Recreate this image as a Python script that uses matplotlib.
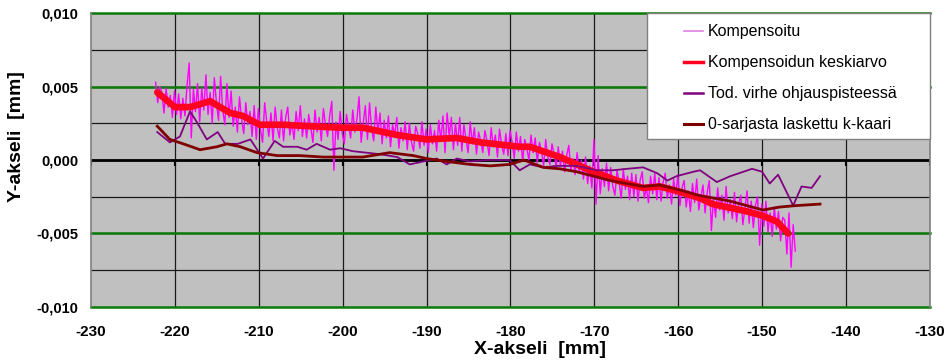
import numpy as np
import matplotlib.pyplot as plt
from matplotlib.patches import Rectangle
from matplotlib.lines import Line2D

# ── Data (y values in µm, x in mm) ───────────────────────────
# Kompensoitu: raw compensated signal, sampled every 0.25 mm
komp_x0, komp_dx = -222.3, 0.25
komp_um = [
    5.3, 3.9, 5.0, 4.6, 3.2, 4.9, 3.6, 4.4, 2.9, 4.7, 3.1, 4.5,
    2.8, 4.2, 3.0, 5.1, 6.6, 1.5, 4.8, 3.3, 5.2, 2.6, 4.9, 3.4,
    5.8, 3.1, 4.6, 2.5, 5.6, 3.9, 2.7, 5.7, 3.4, 2.4, 5.2, 2.9,
    4.7, 2.3, 3.6, 1.9, 4.3, 2.8, 1.8, 3.9, 2.4, 3.3, 1.6, 3.7,
    1.4, 3.5, 2.1, 1.2, 3.9, 2.6, 1.6, 3.2, 1.3, 3.6, 2.2, 1.5,
    3.4, 1.3, 2.9, 3.6, 1.7, 2.5, 1.4, 3.3, 2.0, 3.7, 1.6, 2.8,
    1.5, 3.1, 2.2, 1.2, 3.4, 1.9, 2.9, 1.3, 3.5, 2.4, 1.6, 3.0,
    4.0, -0.7, 2.6, 1.4, 3.3, 1.8, 1.1, 3.1, 2.3, 1.5, 3.4, 1.9,
    2.8, 4.3, 1.2, 2.5, 3.7, 1.4, 3.9, 2.1, 1.3, 3.6, 1.8, 3.2,
    1.1, 2.7, 1.5, 3.0, 0.9, 2.4, 1.7, 2.9, 0.8, 2.2, 1.3, 2.6,
    0.7, 2.5, 1.2, 0.6, 2.3, 1.8, 0.8, 2.6, 1.0, 2.1, 0.5, 2.4,
    1.1, 2.0, 0.6, 2.7, 1.3, 3.0, 0.5, 3.2, 1.6, 2.9, 0.7, 2.5,
    1.0, 2.9, 0.6, 2.4, 1.4, 0.5, 2.6, 1.1, 2.2, 0.4, 1.9, 1.3,
    0.5, 2.0, 1.3, 0.3, 2.2, 0.9, 1.7, 0.2, 2.1, 1.0, 0.4, 1.8,
    0.3, 2.0, 1.2, 0.1, 1.9, 0.6, 1.6, -0.1, 1.4, 0.8, 0.0, 1.7,
    0.5, 1.5, -0.2, 1.2, 0.6, -0.4, 1.4, 0.2, -0.3, 1.1, 0.4, -0.5,
    0.9, -0.4, 0.6, -0.8, 0.3, 1.0, -0.7, 0.1, -1.0, 0.5, -0.9, 0.0,
    -1.3, 0.2, -1.6, -0.4, -1.9, 1.4, -3.0, 0.3, -2.3, -0.6, -1.8, -0.2,
    -2.1, -0.5, -1.8, -2.4, -0.7, -1.5, -2.6, -0.6, -2.0, -1.1, -2.7, -0.9,
    -2.5, -1.0, -2.8, -1.4, -0.8, -2.6, -1.9, -2.9, -1.1, -2.3, -0.9, -2.7,
    -1.2, -2.8, -1.5, -0.9, -2.6, -1.7, -3.0, -1.3, -2.4, -1.0, -3.1, -1.9,
    -1.4, -3.2, -2.1, -3.5, -1.6, -2.9, -1.3, -3.4, -2.5, -1.7, -3.6, -2.2,
    -1.4, -4.8, -2.6, -3.9, -1.9, -3.4, -2.4, -4.1, -1.8, -3.6, -2.7, -4.0,
    -2.2, -4.2, -3.0, -2.4, -4.4, -3.3, -2.1, -4.3, -2.8, -4.6, -3.1, -2.5,
    -5.8, -3.0, -4.5, -2.8, -4.9, -3.6, -5.2, -3.2, -4.7, -3.5, -5.5, -3.9,
    -4.1, -6.4, -3.6, -7.3, -4.4, -6.2,
]
komp_x = komp_x0 + komp_dx * np.arange(len(komp_um))

# Kompensoidun keskiarvo (moving mean)
ka_x = [-222.1, -220.0, -218.2, -215.8, -213.4, -211.9, -209.9, -207.1, -203.9,
        -200.3, -197.6, -193.5, -190.0, -186.4, -183.6, -178.9, -177.7, -174.1,
        -170.5, -167.3, -164.2, -162.2, -160.2, -157.4, -155.9, -151.8, -149.9,
        -148.2, -146.9]
ka_um = [4.6, 3.6, 3.6, 4.0, 3.2, 3.0, 2.4, 2.4, 2.3,
         2.2, 2.2, 1.7, 1.4, 1.5, 1.2, 0.9, 0.9, 0.2,
         -0.7, -1.4, -1.9, -1.8, -2.1, -2.6, -3.0, -3.5, -3.8,
         -4.2, -5.0]

# Tod. virhe ohjauspisteessä
tv_x = [-222.1, -220.6, -219.4, -218.2, -217.4, -216.2, -214.9, -214.0, -212.5,
        -211.0, -209.5, -208.1, -207.1, -205.4, -204.3, -203.1, -201.5, -200.3,
        -198.8, -195.6, -193.5, -192.0, -190.4, -188.8, -187.6, -186.4, -184.8,
        -182.8, -180.1, -178.9, -177.7, -176.1, -174.5, -172.1, -169.7, -167.8,
        -166.1, -164.2, -162.5, -161.3, -160.2, -158.2, -157.4, -155.4, -153.8,
        -151.2, -150.0, -149.1, -148.1, -146.3, -145.3, -144.1, -143.1]
tv_um = [1.9, 1.2, 1.6, 3.3, 2.6, 1.4, 1.9, 1.1, 1.1,
         1.4, 0.1, 1.3, 0.9, 0.9, 0.7, 1.1, 0.7, 0.8,
         0.6, 0.4, 0.2, -0.3, -0.1, 0.1, -0.3, 0.1, -0.1,
         0.0, 0.0, -0.7, -0.3, -0.5, -0.4, -0.4, -0.7, -0.7,
         -0.6, -0.5, -0.9, -1.4, -1.1, -0.8, -0.7, -1.5, -1.1,
         -0.6, -0.8, -1.6, -1.0, -3.1, -1.8, -1.9, -1.1]

# 0-sarjasta laskettu k-kaari
kk_x = [-222.1, -220.6, -219.0, -217.0, -215.0, -213.8, -212.2, -210.2, -207.8,
        -205.1, -202.3, -200.3, -197.6, -194.4, -191.6, -190.0, -187.6, -184.8,
        -182.4, -180.1, -178.4, -176.1, -174.1, -172.1, -168.1, -164.2, -162.2,
        -159.4, -157.6, -153.8, -149.9, -147.9, -145.9, -143.1]
kk_um = [2.3, 1.4, 1.1, 0.7, 0.9, 1.1, 0.9, 0.5, 0.3,
         0.3, 0.2, 0.2, 0.2, 0.5, 0.3, 0.1, -0.1, -0.3,
         -0.4, -0.3, 0.0, -0.5, -0.6, -0.8, -1.4, -1.8, -1.7,
         -2.1, -2.4, -2.8, -3.4, -3.2, -3.1, -3.0]

labels = ["Kompensoitu", "Kompensoidun keskiarvo",
          "Tod. virhe ohjauspisteessä", "0-sarjasta laskettu k-kaari"]

x_ticks = np.arange(-230, -129, 10)
y_ticks = [-0.010, -0.005, 0.0, 0.005, 0.010]

def mm(um):
    return np.asarray(um) / 1000.0

# ── Plot ──────────────────────────────────────────────────────
plt.rcParams['font.family'] = ['Liberation Sans', 'DejaVu Sans']

fig = plt.figure(figsize=(9.49, 3.62), dpi=100)
ax = fig.add_axes([0.0959, 0.152, 0.884, 0.812])
ax.set_facecolor('#C0C0C0')

# grid: black every 0.0025 / 10 mm, green at ±0.005, ±0.010
for yv in np.arange(-0.0075, 0.0080, 0.0025):
    ax.axhline(yv, color='#1a1a1a', lw=0.9, zorder=1)
for yv in [-0.010, -0.005, 0.005, 0.010]:
    ax.axhline(yv, color='#0a7a0a', lw=1.8, zorder=1.5, clip_on=False)
for xv in x_ticks[1:-1]:
    ax.axvline(xv, color='#1a1a1a', lw=0.9, zorder=1)
ax.axhline(0, color='black', lw=2.0, zorder=1.6)
ax.vlines(x_ticks, 0, -0.0004, color='black', lw=1.5, zorder=1.6)

styles = [dict(color='#FF00FF', lw=1.0, zorder=3),
          dict(color='#FF0020', lw=4.8, zorder=4, solid_capstyle='round'),
          dict(color='#800080', lw=1.3, zorder=5),
          dict(color='#800000', lw=2.0, zorder=5)]
ax.plot(komp_x, mm(komp_um), **styles[0])
ax.plot(ka_x, mm(ka_um), **styles[1])
ax.plot(tv_x, mm(tv_um), **styles[2])
ax.plot(kk_x, mm(kk_um), **styles[3])

ax.set_xlim(-230, -130)
ax.set_ylim(-0.010, 0.010)
ax.set_xticks(x_ticks)
ax.set_xticklabels([f"{v:d}" for v in x_ticks])
ax.set_yticks(y_ticks)
ax.set_yticklabels([f"{v:.3f}".replace('.', ',') for v in y_ticks])
ax.tick_params(axis='x', length=0, labelsize=11, pad=13)
ax.tick_params(axis='y', length=0, labelsize=10.5, pad=9)
for t in ax.get_xticklabels() + ax.get_yticklabels():
    t.set_fontweight('bold')

for s in ['left', 'right']:
    ax.spines[s].set_color('#808080')
    ax.spines[s].set_linewidth(1.2)
for s in ['top', 'bottom']:
    ax.spines[s].set_visible(False)

fig.text(0.569, 0.012, "X-akseli  [mm]", fontsize=14, fontweight='bold',
         ha='center', va='bottom')
fig.text(0.008, 0.624, "Y-akseli  [mm]", fontsize=14, fontweight='bold',
         rotation=90, ha='left', va='center')

# ── Legend box (Excel style) ──────────────────────────────────
ax.add_patch(Rectangle((0.6627, 0.5714), 0.3373, 0.4286, transform=ax.transAxes,
                       facecolor='white', edgecolor='#808080', lw=1.0,
                       zorder=10, clip_on=False))
row_y = [0.9388, 0.8333, 0.7279, 0.6224]
leg_cols = ['#E080E0', '#FF0020', '#800080', '#800000']
leg_lw = [1.2, 2.5, 1.8, 2.2]
for yy, lab, c, lw in zip(row_y, labels, leg_cols, leg_lw):
    ax.add_line(Line2D([0.7068, 0.7294], [yy, yy], transform=ax.transAxes,
                       color=c, lw=lw, zorder=11, clip_on=False))
    ax.text(0.7354, yy, lab, transform=ax.transAxes, fontsize=11.5,
            va='center', ha='left', zorder=11)

fig.savefig('out.png', dpi=100)
